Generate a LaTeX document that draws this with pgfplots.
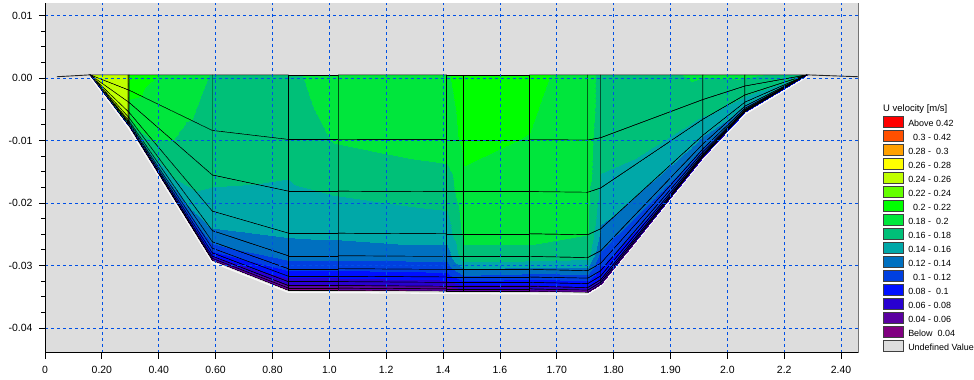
\documentclass[border=0pt]{standalone}
\usepackage{pgfplots}
\usepackage{pgfplotstable}
\pgfplotsset{compat=1.18}
\usepackage{fontspec}
\setmainfont{Liberation Sans}
\definecolor{bggray}{RGB}{221,221,221}
\definecolor{gridblue}{RGB}{0,80,230}
\definecolor{cAbove}{RGB}{255,0,0}
\definecolor{cA}{RGB}{255,80,0}
\definecolor{cB}{RGB}{255,160,0}
\definecolor{cC}{RGB}{255,255,0}
\definecolor{cD}{RGB}{192,255,0}
\definecolor{cE}{RGB}{100,255,0}
\definecolor{cF}{RGB}{0,255,0}
\definecolor{cG}{RGB}{0,230,60}
\definecolor{cH}{RGB}{0,192,120}
\definecolor{cI}{RGB}{0,168,168}
\definecolor{cJ}{RGB}{0,112,192}
\definecolor{cK}{RGB}{0,64,224}
\definecolor{cL}{RGB}{0,16,255}
\definecolor{cM}{RGB}{40,0,208}
\definecolor{cN}{RGB}{90,0,160}
\definecolor{cBelow}{RGB}{128,0,128}
\definecolor{cUndef}{RGB}{221,221,221}

% x: section position, b: bed level, s: relative depth of the layer, u: velocity
\pgfplotstableread{
x b s u
0.1358 0.0005 0 0.25
0.2506 -0.0075 0 0.25
0.2536 -0.0077 0 0.212
0.5042 -0.02917 0 0.179
0.7336 -0.03397 0 0.176
0.8845 -0.03397 0 0.19
1.2106 -0.0341 0 0.198
1.2619 -0.0341 0 0.21
1.4612 -0.0341 0 0.208
1.6362 -0.0343 0 0.185
1.6755 -0.0330 0 0.176
1.9834 -0.01266 0 0.181
2.1102 -0.00545 0 0.182
2.2974 0.0005 0 0.175
0.1358 0.0005 0.30 0.25
0.2506 -0.0075 0.30 0.25
0.2536 -0.0077 0.30 0.205
0.5042 -0.02917 0.30 0.172
0.7336 -0.03397 0.30 0.17
0.8845 -0.03397 0.30 0.182
1.2106 -0.0341 0.30 0.19
1.2619 -0.0341 0.30 0.205
1.4612 -0.0341 0.30 0.199
1.6362 -0.0343 0.30 0.185
1.6755 -0.0330 0.30 0.172
1.9834 -0.01266 0.30 0.17
2.1102 -0.00545 0.30 0.175
2.2974 0.0005 0.30 0.17
0.1358 0.0005 0.54 0.25
0.2506 -0.0075 0.54 0.25
0.2536 -0.0077 0.54 0.198
0.5042 -0.02917 0.54 0.164
0.7336 -0.03397 0.54 0.157
0.8845 -0.03397 0.54 0.162
1.2106 -0.0341 0.54 0.168
1.2619 -0.0341 0.54 0.195
1.4612 -0.0341 0.54 0.19
1.6362 -0.0343 0.54 0.183
1.6755 -0.0330 0.54 0.155
1.9834 -0.01266 0.54 0.158
2.1102 -0.00545 0.54 0.162
2.2974 0.0005 0.54 0.16
0.1358 0.0005 0.735 0.25
0.2506 -0.0075 0.735 0.25
0.2536 -0.0077 0.735 0.192
0.5042 -0.02917 0.735 0.152
0.7336 -0.03397 0.735 0.143
0.8845 -0.03397 0.735 0.145
1.2106 -0.0341 0.735 0.15
1.2619 -0.0341 0.735 0.185
1.4612 -0.0341 0.735 0.185
1.6362 -0.0343 0.735 0.18
1.6755 -0.0330 0.735 0.138
1.9834 -0.01266 0.735 0.142
2.1102 -0.00545 0.735 0.15
2.2974 0.0005 0.735 0.15
0.1358 0.0005 0.84 0.248
0.2506 -0.0075 0.84 0.248
0.2536 -0.0077 0.84 0.185
0.5042 -0.02917 0.84 0.138
0.7336 -0.03397 0.84 0.128
0.8845 -0.03397 0.84 0.128
1.2106 -0.0341 0.84 0.13
1.2619 -0.0341 0.84 0.175
1.4612 -0.0341 0.84 0.175
1.6362 -0.0343 0.84 0.165
1.6755 -0.0330 0.84 0.12
1.9834 -0.01266 0.84 0.128
2.1102 -0.00545 0.84 0.14
2.2974 0.0005 0.84 0.14
0.1358 0.0005 0.90 0.245
0.2506 -0.0075 0.90 0.245
0.2536 -0.0077 0.90 0.175
0.5042 -0.02917 0.90 0.124
0.7336 -0.03397 0.90 0.104
0.8845 -0.03397 0.90 0.104
1.2106 -0.0341 0.90 0.108
1.2619 -0.0341 0.90 0.14
1.4612 -0.0341 0.90 0.135
1.6362 -0.0343 0.90 0.13
1.6755 -0.0330 0.90 0.105
1.9834 -0.01266 0.90 0.118
2.1102 -0.00545 0.90 0.13
2.2974 0.0005 0.90 0.13
0.1358 0.0005 0.935 0.24
0.2506 -0.0075 0.935 0.235
0.2536 -0.0077 0.935 0.16
0.5042 -0.02917 0.935 0.11
0.7336 -0.03397 0.935 0.086
0.8845 -0.03397 0.935 0.086
1.2106 -0.0341 0.935 0.09
1.2619 -0.0341 0.935 0.115
1.4612 -0.0341 0.935 0.11
1.6362 -0.0343 0.935 0.11
1.6755 -0.0330 0.935 0.095
1.9834 -0.01266 0.935 0.11
2.1102 -0.00545 0.935 0.12
2.2974 0.0005 0.935 0.12
0.1358 0.0005 0.96 0.22
0.2506 -0.0075 0.96 0.21
0.2536 -0.0077 0.96 0.14
0.5042 -0.02917 0.96 0.095
0.7336 -0.03397 0.96 0.068
0.8845 -0.03397 0.96 0.068
1.2106 -0.0341 0.96 0.074
1.2619 -0.0341 0.96 0.095
1.4612 -0.0341 0.96 0.09
1.6362 -0.0343 0.96 0.09
1.6755 -0.0330 0.96 0.085
1.9834 -0.01266 0.96 0.10
2.1102 -0.00545 0.96 0.11
2.2974 0.0005 0.96 0.11
0.1358 0.0005 0.978 0.19
0.2506 -0.0075 0.978 0.18
0.2536 -0.0077 0.978 0.12
0.5042 -0.02917 0.978 0.08
0.7336 -0.03397 0.978 0.055
0.8845 -0.03397 0.978 0.055
1.2106 -0.0341 0.978 0.06
1.2619 -0.0341 0.978 0.075
1.4612 -0.0341 0.978 0.075
1.6362 -0.0343 0.978 0.075
1.6755 -0.0330 0.978 0.075
1.9834 -0.01266 0.978 0.09
2.1102 -0.00545 0.978 0.10
2.2974 0.0005 0.978 0.10
0.1358 0.0005 0.99 0.15
0.2506 -0.0075 0.99 0.14
0.2536 -0.0077 0.99 0.10
0.5042 -0.02917 0.99 0.065
0.7336 -0.03397 0.99 0.045
0.8845 -0.03397 0.99 0.045
1.2106 -0.0341 0.99 0.048
1.2619 -0.0341 0.99 0.06
1.4612 -0.0341 0.99 0.06
1.6362 -0.0343 0.99 0.06
1.6755 -0.0330 0.99 0.065
1.9834 -0.01266 0.99 0.08
2.1102 -0.00545 0.99 0.09
2.2974 0.0005 0.99 0.09
0.1358 0.0005 1.0 0.10
0.2506 -0.0075 1.0 0.10
0.2536 -0.0077 1.0 0.07
0.5042 -0.02917 1.0 0.05
0.7336 -0.03397 1.0 0.035
0.8845 -0.03397 1.0 0.035
1.2106 -0.0341 1.0 0.038
1.2619 -0.0341 1.0 0.045
1.4612 -0.0341 1.0 0.045
1.6362 -0.0343 1.0 0.045
1.6755 -0.0330 1.0 0.05
1.9834 -0.01266 1.0 0.07
2.1102 -0.00545 1.0 0.08
2.2974 0.0005 1.0 0.08
}\uvel

\begin{document}
\begin{tikzpicture}
\begin{axis}[
  scale only axis, width=813bp, height=349.7bp,
  xmin=0, xmax=2.451, ymin=-0.04396, ymax=0.0120,
  axis background/.style={fill=bggray},
  axis x line*=bottom, axis y line*=left,
  axis line style={black, line width=0.8bp, -},
  tick align=outside,
  major tick length=6bp, minor tick length=3.5bp,
  every tick/.style={black, line width=0.8bp},
  xtick={0,0.171429,0.342857,0.514286,0.685714,0.857143,1.028571,1.2,1.371429,1.542857,1.714286,1.885714,2.057143,2.228571,2.4},
  xticklabels={0,0.20,0.40,0.60,0.80,1.0,1.2,1.4,1.6,1.70,1.80,1.90,2.0,2.2,2.40},
  ytick={-0.04,-0.03,-0.02,-0.01,0,0.01},
  scaled y ticks=false,
  yticklabel style={/pgf/number format/fixed, /pgf/number format/fixed zerofill, /pgf/number format/precision=2, xshift=-3bp},
  /pgf/number format/assume math mode=true,
  minor x tick num=3, minor y tick num=3,
  grid=major,
  major grid style={gridblue, line width=0.7bp, dash pattern=on 3bp off 3bp},
  axis on top,
  tick label style={font=\fontsize{10.5}{12}\selectfont},
  xticklabel style={yshift=-4bp},
  colormap={uvelmap}{
    rgb255(0cm)=(128,0,128);
    rgb255(4cm)=(90,0,160);
    rgb255(6cm)=(40,0,208);
    rgb255(8cm)=(0,16,255);
    rgb255(10cm)=(0,64,224);
    rgb255(12cm)=(0,112,192);
    rgb255(14cm)=(0,168,168);
    rgb255(16cm)=(0,192,120);
    rgb255(18cm)=(0,230,60);
    rgb255(20cm)=(0,255,0);
    rgb255(22cm)=(100,255,0);
    rgb255(24cm)=(192,255,0);
    rgb255(26cm)=(255,255,0);
    rgb255(28cm)=(255,160,0);
    rgb255(30cm)=(255,80,0);
    rgb255(42cm)=(255,0,0);
    rgb255(50cm)=(255,0,0)
  },
  colormap access=piecewise constant,
  point meta min=0, point meta max=0.5,
  legend style={draw=none, fill=none, at={(1.0308,0.676)}, anchor=north west,
    inner sep=0pt, outer sep=0pt, row sep=-1.85bp,
    font=\fontsize{9}{11}\selectfont,
    nodes={inner sep=0pt, text height=8.5bp, text depth=5.5bp},
    /tikz/every odd column/.append style={column sep=4.5bp}},
  legend cell align=left,
  legend image code/.code={\draw[#1, draw=black!75, line width=0.7bp] (0bp,-2.5bp) rectangle (20bp,8.5bp);},
]
\addlegendimage{fill=cAbove}\addlegendentry{Above 0.42}
\addlegendimage{fill=cA}\addlegendentry{\ \ 0.3 - 0.42}
\addlegendimage{fill=cB}\addlegendentry{0.28 - \ 0.3}
\addlegendimage{fill=cC}\addlegendentry{0.26 - 0.28}
\addlegendimage{fill=cD}\addlegendentry{0.24 - 0.26}
\addlegendimage{fill=cE}\addlegendentry{0.22 - 0.24}
\addlegendimage{fill=cF}\addlegendentry{\ \ 0.2 - 0.22}
\addlegendimage{fill=cG}\addlegendentry{0.18 - \ 0.2}
\addlegendimage{fill=cH}\addlegendentry{0.16 - 0.18}
\addlegendimage{fill=cI}\addlegendentry{0.14 - 0.16}
\addlegendimage{fill=cJ}\addlegendentry{0.12 - 0.14}
\addlegendimage{fill=cK}\addlegendentry{\ \ 0.1 - 0.12}
\addlegendimage{fill=cL}\addlegendentry{0.08 - \ 0.1}
\addlegendimage{fill=cM}\addlegendentry{0.06 - 0.08}
\addlegendimage{fill=cN}\addlegendentry{0.04 - 0.06}
\addlegendimage{fill=cBelow}\addlegendentry{Below \ 0.04}
\addlegendimage{fill=cUndef}\addlegendentry{Undefined Value}

\addplot[white, line width=1.3bp, opacity=0.8, forget plot] coordinates {
  (0.1358,0.0002) (0.2506,-0.0079) (0.5042,-0.0295) (0.7336,-0.0343)
  (1.6362,-0.0346) (1.6755,-0.0333) (1.9834,-0.0130) (2.1102,-0.0058) (2.2974,0.0002)};

\addplot[surf, shader=faceted interp, faceted color=black, line width=0.45bp,
  mesh/rows=11, mesh/cols=14, point meta=explicit, forget plot]
  table[x=x, y expr={0.0005-\thisrow{s}*(0.0005-\thisrow{b})}, meta=u] {\uvel};

\addplot[black!85, line width=0.9bp, forget plot] coordinates {(0.036,0.0002) (0.1358,0.0005)};
\addplot[black!85, line width=0.9bp, forget plot] coordinates {(2.2974,0.0005) (2.451,0.0002)};
\end{axis}
\draw[black!55, line width=0.8bp] (current axis.south east) -- (current axis.north east);
\node[anchor=base west, font=\fontsize{9.5}{11}\selectfont, inner sep=0pt] at ([xshift=25bp,yshift=-109bp]current axis.north east) {U velocity [m/s]};
\pgfresetboundingbox
\path ([xshift=-45bp,yshift=-27.3bp]current axis.south west) rectangle ++(974bp,380bp);
\end{tikzpicture}
\end{document}
